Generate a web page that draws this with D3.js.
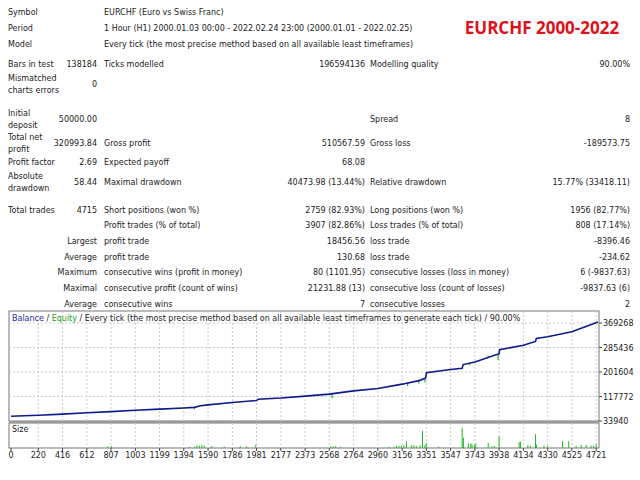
<!DOCTYPE html>
<html><head><meta charset="utf-8">
<script src="https://cdn.jsdelivr.net/npm/d3@7"></script>
<style>body{margin:0;background:#fff}svg{display:block}</style>
</head><body>
<div id="vis"></div>
<script>
// Report table rows: [y, col1 label, col1 value, col2 label, col2 value, col3 label, col3 value]
var headerRows = [
  [12, "Symbol", "EURCHF (Euro vs Swiss Franc)"],
  [28, "Period", "1 Hour (H1) 2000.01.03 00:00 - 2022.02.24 23:00 (2000.01.01 - 2022.02.25)"],
  [44, "Model", "Every tick (the most precise method based on all available least timeframes)"]
];
var statRows = [
  [64, ["Bars in test"], "138184", "Ticks modelled", "196594136", "Modelling quality", "90.00%"],
  [84, ["Mismatched", "charts errors"], "0", "", "", "", ""],
  [119, ["Initial", "deposit"], "50000.00", "", "", "Spread", "8"],
  [143, ["Total net", "profit"], "320993.84", "Gross profit", "510567.59", "Gross loss", "-189573.75"],
  [162, ["Profit factor"], "2.69", "Expected payoff", "68.08", "", ""],
  [182, ["Absolute", "drawdown"], "58.44", "Maximal drawdown", "40473.98 (13.44%)", "Relative drawdown", "15.77% (33418.11)"],
  [210, ["Total trades"], "4715", "Short positions (won %)", "2759 (82.93%)", "Long positions (won %)", "1956 (82.77%)"],
  [225, [], "", "Profit trades (% of total)", "3907 (82.86%)", "Loss trades (% of total)", "808 (17.14%)"]
];
var detailRows = [
  [241, "Largest", "profit trade", "18456.56", "loss trade", "-8396.46"],
  [257, "Average", "profit trade", "130.68", "loss trade", "-234.62"],
  [272, "Maximum", "consecutive wins (profit in money)", "80 (1101.95)", "consecutive losses (loss in money)", "6 (-9837.63)"],
  [288, "Maximal", "consecutive profit (count of wins)", "21231.88 (13)", "consecutive loss (count of losses)", "-9837.63 (6)"],
  [304, "Average", "consecutive wins", "7", "consecutive losses", "2"]
];

// Balance curve (trade number, balance)
var balTrades = [0,220,416,612,807,1003,1199,1394,1480,1530,1590,1786,1981,1995,2177,2373,2568,2764,2960,3156,3300,3345,3352,3547,3640,3648,3743,3938,3942,4134,4232,4238,4330,4525,4736];
var balValues = [50000,53500,57500,62000,66000,70500,74500,78500,80500,86000,89000,97000,104000,108500,112500,119000,126000,137000,145000,160000,173000,181000,199000,210000,214000,227000,236000,264000,278000,293000,306000,316000,322000,339000,372500];
// Equity dips (trade number, equity low)
var dipTrades = [1480,2590,3200,3290,3340,3700,3930,3850];
var dipValues = [74000,112000,154000,162000,166000,225000,243000,258000];
// Lot size bars (trade number, relative size)
var sizeTrades = [780,810,1440,1480,1500,1520,1540,1560,1620,1720,1850,1900,1975,2580,2600,2620,2660,3050,3090,3110,3130,3150,3170,3190,3230,3250,3270,3300,3320,3340,3351,3450,3640,3650,3690,3710,3720,3740,3750,3850,3880,3900,3938,4100,4110,4170,4190,4232,4240,4300,4330,4450,4500,4560,4600,4640,4680,4700,4721];
var sizeValues = [0.06,0.08,0.05,0.06,0.12,0.1,0.14,0.1,0.08,0.06,0.08,0.07,0.14,0.08,0.06,0.08,0.06,0.04,0.04,0.1,0.1,0.1,0.12,0.3,0.12,0.12,0.1,0.12,0.75,0.12,0.2,0.06,0.88,0.45,0.2,0.2,0.14,0.12,0.2,0.22,0.06,0.1,0.5,0.25,0.28,0.12,0.1,0.6,0.14,0.1,0.1,0.3,0.3,0.08,0.14,0.14,0.1,0.1,0.16];
var yTicks = [33940,117772,201604,285436,369268];
var xTicks = [0,220,416,612,807,1003,1199,1394,1590,1786,1981,2177,2373,2568,2764,2960,3156,3351,3547,3743,3938,4134,4330,4525,4721];

var W = 640, H = 480, font = "'DejaVu Sans', sans-serif";
var svg = d3.select("#vis").append("svg").attr("width", W).attr("height", H)
  .style("font-family", font).style("font-size", "8px").style("fill", "#222");

function txt(x, y, s, anchor) {
  return svg.append("text").attr("x", x).attr("y", y + 3).attr("text-anchor", anchor || "start").text(s);
}

headerRows.forEach(function(r) { txt(8, r[0], r[1]); txt(104, r[0], r[2]); });
statRows.forEach(function(r) {
  var y = r[0], n = r[1].length;
  r[1].forEach(function(l, i) { txt(8, y + (i - (n - 1) / 2) * 12, l); });
  txt(97, y, r[2], "end"); txt(104, y, r[3]); txt(365, y, r[4], "end");
  txt(370, y, r[5]); txt(630, y, r[6], "end");
});
detailRows.forEach(function(r) {
  txt(97, r[0], r[1], "end"); txt(104, r[0], r[2]); txt(365, r[0], r[3], "end");
  txt(370, r[0], r[4]); txt(630, r[0], r[5], "end");
});
svg.append("text").attr("x", 542).attr("y", 34).attr("text-anchor", "middle")
  .style("font-family", "'Open Sans', sans-serif").style("font-weight", "bold")
  .style("font-size", "17px").style("fill", "#e0101a").text("EURCHF 2000-2022");

// Chart panels
var pLeft = 9, pRight = 599, pTop = 311, mainBot = 421, sizeTop = 423, sizeBot = 448;
var x = d3.scaleLinear().domain([0, 4736]).range([11, 598]);
var y = d3.scaleLinear().domain([33940, 369268]).range([mainBot, 323]);
var ys = d3.scaleLinear().domain([0, 1]).range([sizeBot, sizeTop + 2]);

svg.append("rect").attr("x", pLeft).attr("y", pTop).attr("width", pRight - pLeft).attr("height", mainBot - pTop)
  .style("fill", "#fff").style("stroke", "#777");
svg.append("rect").attr("x", pLeft).attr("y", sizeTop).attr("width", pRight - pLeft).attr("height", sizeBot - sizeTop)
  .style("fill", "#fff").style("stroke", "#777");
svg.append("line").attr("x1", pLeft).attr("x2", pRight).attr("y1", mainBot + 1).attr("y2", mainBot + 1)
  .style("stroke", "#999").style("stroke-width", 2);

var grid = svg.append("g").style("stroke", "#ccc").style("stroke-dasharray", "2,2");
xTicks.slice(1).forEach(function(t) {
  grid.append("line").attr("x1", x(t)).attr("x2", x(t)).attr("y1", pTop).attr("y2", mainBot);
  grid.append("line").attr("x1", x(t)).attr("x2", x(t)).attr("y1", sizeTop).attr("y2", sizeBot);
});
yTicks.slice(1).forEach(function(t) {
  grid.append("line").attr("x1", pLeft).attr("x2", pRight).attr("y1", y(t)).attr("y2", y(t));
});

yTicks.forEach(function(t) {
  svg.append("line").attr("x1", pRight).attr("x2", pRight + 3).attr("y1", y(t)).attr("y2", y(t)).style("stroke", "#444");
  txt(603, y(t), t);
});
xTicks.forEach(function(t) {
  svg.append("line").attr("x1", x(t)).attr("x2", x(t)).attr("y1", sizeBot).attr("y2", sizeBot + 3).style("stroke", "#444");
  txt(x(t), 455, t, "middle");
});

// Equity dips
dipTrades.forEach(function(t, i) {
  var b = d3.scaleLinear().domain(balTrades).range(balValues)(t);
  svg.append("line").attr("x1", x(t)).attr("x2", x(t)).attr("y1", y(b)).attr("y2", y(dipValues[i]))
    .style("stroke", "#22b522").style("stroke-width", 1.2);
});
// Balance line
var line = d3.line().x(function(d) { return x(d[0]); }).y(function(d) { return y(d[1]); });
svg.append("path").datum(balTrades.map(function(t, i) { return [t, balValues[i]]; }))
  .attr("d", line).style("fill", "none").style("stroke", "#0d1a8c").style("stroke-width", 1.6);

// Size bars
sizeTrades.forEach(function(t, i) {
  svg.append("line").attr("x1", x(t)).attr("x2", x(t)).attr("y1", sizeBot).attr("y2", ys(sizeValues[i]))
    .style("stroke", "#22b522").style("stroke-width", 1);
});
txt(12, 429, "Size");

// Legend header
var lg = svg.append("text").attr("x", 12).attr("y", 321);
lg.append("tspan").style("fill", "#1a2a9c").text("Balance");
lg.append("tspan").text(" / ");
lg.append("tspan").style("fill", "#22a022").text("Equity");
lg.append("tspan").text(" / Every tick (the most precise method based on all available least timeframes to generate each tick) / 90.00%");
</script>
</body></html>
